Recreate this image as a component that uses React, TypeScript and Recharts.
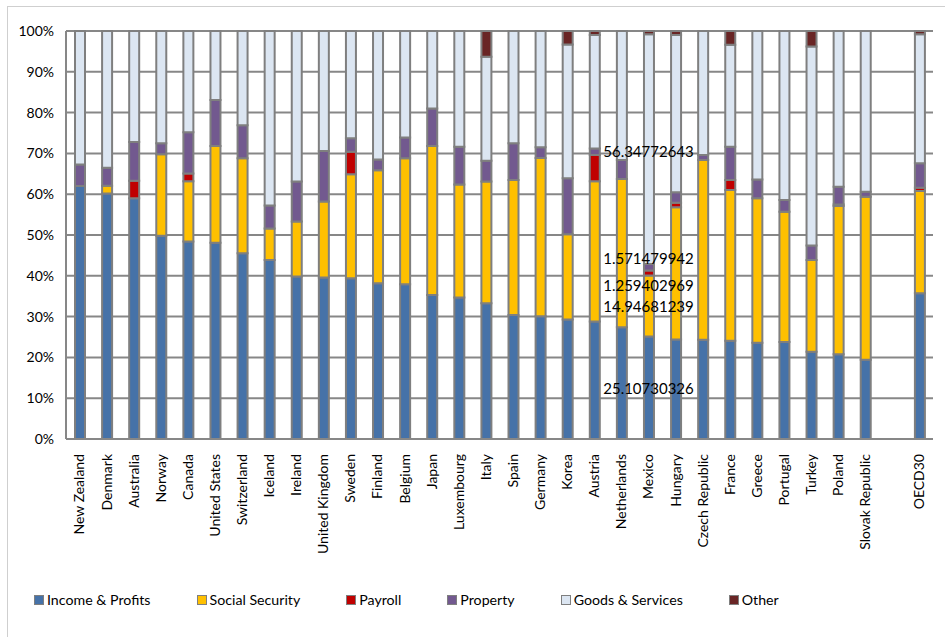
import React from 'react';
import { BarChart, Bar, XAxis, YAxis, CartesianGrid, Legend, ReferenceDot } from 'recharts';

// Tax revenue composition by country, shares of total (%)
const countries = [
  'New Zealand', 'Denmark', 'Australia', 'Norway', 'Canada', 'United States', 'Switzerland',
  'Iceland', 'Ireland', 'United Kingdom', 'Sweden', 'Finland', 'Belgium', 'Japan',
  'Luxembourg', 'Italy', 'Spain', 'Germany', 'Korea', 'Austria', 'Netherlands', 'Mexico',
  'Hungary', 'Czech Republic', 'France', 'Greece', 'Portugal', 'Turkey', 'Poland',
  'Slovak Republic', '', 'OECD30',
];

const incomeProfits = [
  62.0, 60.2, 59.0, 49.8, 48.4, 48.1, 45.5, 43.9, 39.8, 39.6, 39.4, 38.2, 37.9, 35.3,
  34.7, 33.3, 30.4, 30.1, 29.3, 28.8, 27.4, 25.10730326, 24.4, 24.3, 24.1, 23.6, 23.8,
  21.4, 20.8, 19.4, null, 35.7,
];
const socialSecurity = [
  0, 1.9, 0, 20.0, 14.8, 23.7, 23.3, 7.7, 13.5, 18.6, 25.5, 27.7, 30.9, 36.5,
  27.7, 29.8, 33.1, 38.8, 20.9, 34.4, 36.3, 14.94681239, 32.4, 44.1, 36.9, 35.4, 31.9,
  22.5, 36.3, 40.0, null, 25.1,
];
const payroll = [
  0, 0, 4.3, 0, 1.9, 0, 0, 0, 0, 0, 5.5, 0, 0, 0,
  0, 0, 0, 0, 0, 6.4, 0, 1.259402969, 1.1, 0, 2.5, 0, 0,
  0, 0.4, 0, null, 0.8,
];
const property = [
  5.3, 4.4, 9.5, 2.7, 10.1, 11.3, 8.1, 5.6, 9.8, 12.4, 3.3, 2.6, 5.1, 9.2,
  9.2, 5.1, 9.0, 2.6, 13.7, 1.6, 4.7, 1.571479942, 2.6, 1.2, 8.1, 4.6, 2.9,
  3.5, 4.3, 1.2, null, 6.0,
];
const goodsServices = [
  32.7, 33.5, 27.2, 27.5, 24.8, 16.9, 23.1, 42.8, 36.9, 29.4, 26.3, 31.5, 26.1, 19.0,
  28.4, 25.5, 27.5, 28.5, 32.8, 27.8, 31.6, 56.34772643, 38.5, 30.4, 25.0, 36.4, 41.4,
  48.8, 38.2, 39.4, null, 31.6,
];
const other = [
  0, 0, 0, 0, 0, 0, 0, 0, 0, 0, 0, 0, 0, 0,
  0, 6.3, 0, 0, 3.3, 1.0, 0, 0.77, 1.0, 0, 3.4, 0, 0,
  3.8, 0, 0, null, 0.8,
];

const yTicks = [0, 0.1, 0.2, 0.3, 0.4, 0.5, 0.6, 0.7, 0.8, 0.9, 1];

// Country whose segments carry value labels
const labelledCountry = 'Mexico';

const series = [
  { key: 'income', name: 'Income & Profits', color: '#4672A8', values: incomeProfits, labelled: true },
  { key: 'social', name: 'Social Security', color: '#FFC000', values: socialSecurity, labelled: true },
  { key: 'payroll', name: 'Payroll', color: '#C00000', values: payroll, labelled: true },
  { key: 'property', name: 'Property', color: '#72598F', values: property, labelled: true },
  { key: 'goods', name: 'Goods & Services', color: '#DCE6F2', values: goodsServices, labelled: true },
  { key: 'other', name: 'Other', color: '#692525', values: other, labelled: false },
];

const data = countries.map((name, i) => {
  const row: Record<string, any> = { name };
  series.forEach((s) => {
    row[s.key] = s.values[i];
  });
  return row;
});

// Segment midpoints (as share of the stacked total) for the labelled country
const labelIndex = countries.indexOf(labelledCountry);
const labelTotal = series.reduce((acc, s) => acc + (s.values[labelIndex] || 0), 0);
const segmentLabels = (() => {
  let cum = 0;
  const out: { key: string; value: number; mid: number }[] = [];
  series.forEach((s) => {
    const v = s.values[labelIndex] || 0;
    if (s.labelled && v > 0) out.push({ key: s.key, value: v, mid: (cum + v / 2) / labelTotal });
    cum += v;
  });
  return out;
})();

// Small vertical nudges so the thin stacked labels don't collide
const labelNudge: Record<string, number> = { payroll: 12, property: -9, goods: 2 };

const FONT = 'Lato, "Open Sans", sans-serif';
const GRID = '#878787';
const BORDER = '#4F81BD';

const CountryTick = (props: any) => {
  const { x, y, payload } = props;
  const ty = y + 7;
  return (
    <text
      x={x}
      y={ty}
      transform={`rotate(-90, ${x}, ${ty})`}
      textAnchor="end"
      dy="0.35em"
      fontFamily={FONT}
      fontSize={14}
      fill="#000"
    >
      {payload.value}
    </text>
  );
};

const makeSegmentLabel = (text: string, nudge: number) => (props: any) => {
  const vb = props.viewBox || {};
  const cx = (vb.x || 0) + (vb.width || 0) / 2;
  const cy = (vb.y || 0) + (vb.height || 0) / 2 + nudge;
  return (
    <text
      x={cx}
      y={cy}
      textAnchor="middle"
      dominantBaseline="central"
      fontFamily={FONT}
      fontSize={15}
      fill="#000"
    >
      {text}
    </text>
  );
};

const LegendContent = () => (
  <div style={{ display: 'flex', alignItems: 'center', fontFamily: FONT, fontSize: 14.2, color: '#000' }}>
    {series.map((s) => (
      <div key={s.key} style={{ display: 'flex', alignItems: 'center', marginRight: 46 }}>
        <span
          style={{
            display: 'inline-block',
            width: 8,
            height: 8,
            background: s.color,
            border: '1.5px solid #7f7f7f',
            marginRight: 3,
          }}
        />
        <span>{s.name}</span>
      </div>
    ))}
  </div>
);

export default function App() {
  return (
    <div style={{ position: 'absolute', left: 0, top: 0, width: 945, height: 637, background: '#fff' }}>
      <div
        style={{
          position: 'absolute',
          left: 7,
          top: 6,
          width: 945,
          height: 640,
          borderLeft: '1.5px solid #cfcfcf',
          borderTop: '1.5px solid #cfcfcf',
        }}
      />
      <div style={{ position: 'absolute', left: 0, top: 0 }}>
        <BarChart
          width={945}
          height={637}
          data={data}
          stackOffset="expand"
          barSize={10}
          margin={{ top: 31, right: 12, left: 8, bottom: 26 }}
        >
          <CartesianGrid vertical={false} stroke={GRID} strokeWidth={2} />
          <XAxis
            dataKey="name"
            interval={0}
            tick={<CountryTick />}
            tickLine={false}
            axisLine={{ stroke: GRID, strokeWidth: 2 }}
            height={152}
          />
          <XAxis
            xAxisId="top"
            dataKey="name"
            orientation="top"
            tick={false}
            tickLine={false}
            axisLine={{ stroke: BORDER, strokeWidth: 2 }}
            height={0}
          />
          <YAxis
            domain={[0, 1]}
            ticks={yTicks}
            tickFormatter={(v: number) => `${Math.round(v * 100)}%`}
            tickLine={false}
            tickSize={0}
            tickMargin={12}
            axisLine={{ stroke: GRID, strokeWidth: 2 }}
            width={58}
            tick={{ fontFamily: FONT, fontSize: 14, fill: '#000' }}
          />
          <YAxis
            yAxisId="right"
            orientation="right"
            domain={[0, 1]}
            tick={false}
            tickLine={false}
            axisLine={{ stroke: BORDER, strokeWidth: 2 }}
            width={0}
          />
          <Legend
            verticalAlign="bottom"
            height={20}
            content={<LegendContent />}
            wrapperStyle={{ left: 34, width: 900, height: 20 }}
          />
          {series.map((s) => (
            <Bar
              key={s.key}
              dataKey={s.key}
              name={s.name}
              stackId="tax"
              fill={s.color}
              stroke="#7f7f7f"
              strokeWidth={2}
              isAnimationActive={false}
            />
          ))}
          {segmentLabels.map((l) => (
            <ReferenceDot
              key={l.key}
              x={labelledCountry}
              y={l.mid}
              r={0}
              fill="none"
              stroke="none"
              ifOverflow="visible"
              label={makeSegmentLabel(String(l.value), labelNudge[l.key] || 0)}
            />
          ))}
        </BarChart>
      </div>
    </div>
  );
}
